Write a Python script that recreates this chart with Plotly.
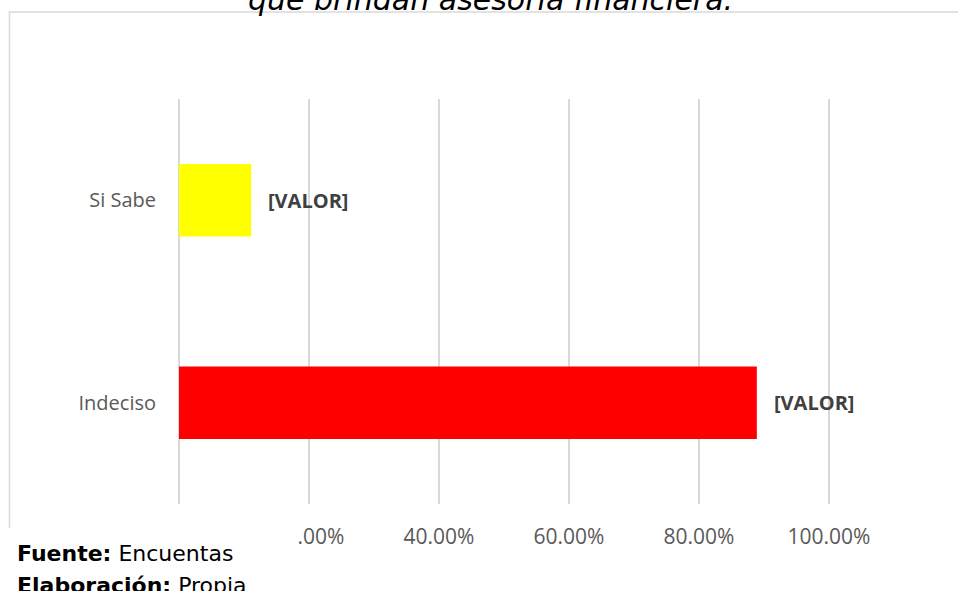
import plotly.graph_objects as go

categories = ["Indeciso", "Si Sabe"]
values = [0.889, 0.111]
colors = ["#FF0000", "#FFFF00"]
label_text = "[VALOR]"
tick_vals = [0, 0.2, 0.4, 0.6, 0.8, 1.0]
tick_text = ["0.00%", "20.00%", "40.00%", "60.00%", "80.00%", "100.00%"]
title_text = "que brindan asesoría financiera."

W, H = 958, 591
PX0, PX1 = 179, 829          # pixel positions of 0% and 100%
PAD = 0.02                   # range padding so edge gridlines are drawn
unit = PX1 - PX0
L = PX0 - PAD * unit
R = W - (PX1 + PAD * unit)
T, B = 99, 87
pw, ph = W - L - R, H - T - B

def px_x(p):
    return (p - L) / pw

def px_y(p):
    return (H - B - p) / ph

fig = go.Figure()
fig.add_trace(go.Bar(
    y=categories, x=values, orientation="h",
    marker=dict(color=colors, line=dict(width=0)),
    hoverinfo="skip",
))

annotations = []
for c, v in zip(categories, values):
    annotations.append(dict(
        x=v, y=c, xref="x", yref="y", text="<b>" + label_text + "</b>",
        showarrow=False, xanchor="left", yanchor="middle", xshift=15,
        font=dict(family="Open Sans", size=20, color="#404040"),
    ))

annotations.append(dict(
    x=px_x(490), y=px_y(-1), xref="paper", yref="paper", text="<i>" + title_text + "</i>",
    showarrow=False, xanchor="center", yanchor="middle",
    font=dict(family="DejaVu Sans", size=30, color="#000000"),
))
annotations.append(dict(
    x=px_x(15), y=px_y(553), xref="paper", yref="paper",
    text="<b>Fuente:</b> Encuentas", showarrow=False, xanchor="left", yanchor="middle",
    font=dict(family="DejaVu Sans", size=22, color="#000000"),
))
annotations.append(dict(
    x=px_x(15), y=px_y(585), xref="paper", yref="paper",
    text="<b>Elaboración:</b> Propia", showarrow=False, xanchor="left", yanchor="middle",
    font=dict(family="DejaVu Sans", size=22, color="#000000"),
))

shapes = [
    dict(type="rect", xref="paper", yref="paper", layer="below",
         x0=px_x(9.5), x1=px_x(975), y0=px_y(620), y1=px_y(12),
         line=dict(color="#d9d9d9", width=1.5), fillcolor="rgba(0,0,0,0)"),
    dict(type="rect", xref="paper", yref="paper", layer="above",
         x0=px_x(-5), x1=px_x(297), y0=px_y(620), y1=px_y(528),
         line=dict(width=0), fillcolor="#ffffff"),
]

fig.update_layout(
    width=W, height=H,
    margin=dict(l=L, r=R, t=T, b=B, pad=0),
    paper_bgcolor="#ffffff", plot_bgcolor="#ffffff",
    bargap=0.642,
    showlegend=False,
    annotations=annotations,
    shapes=shapes,
    xaxis=dict(
        range=[-PAD, 1 + PAD], tickvals=tick_vals, ticktext=tick_text,
        showgrid=True, gridcolor="#d9d9d9", gridwidth=1.5,
        zeroline=True, zerolinecolor="#d9d9d9", zerolinewidth=1.5,
        showline=False, ticks="",
        tickfont=dict(family="Open Sans", size=21, color="#595959"),
        ticklabelstandoff=18, fixedrange=True,
    ),
    yaxis=dict(
        showgrid=False, zeroline=False, showline=False, ticks="",
        tickfont=dict(family="Open Sans", size=20, color="#595959"),
        ticklabelstandoff=9, fixedrange=True,
    ),
)

fig.write_html(
    "out.html",
    config={"displayModeBar": False},
    post_script="document.body.style.margin='0';document.body.style.overflow='hidden';",
)
